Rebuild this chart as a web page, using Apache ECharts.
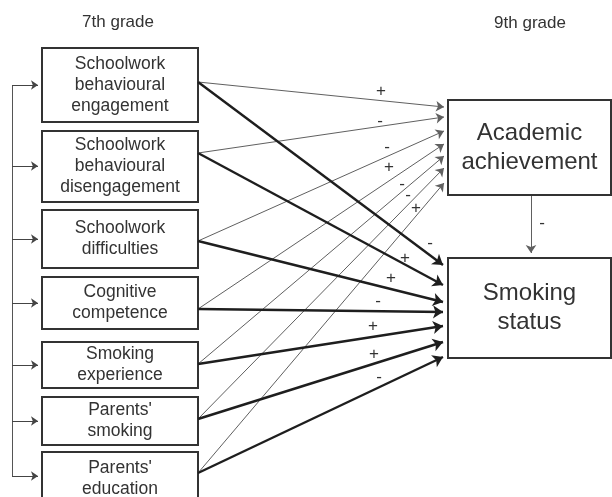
<!DOCTYPE html>
<html><head><meta charset="utf-8">
<script src="https://cdn.jsdelivr.net/npm/echarts@6/dist/echarts.min.js"></script>
<style>html,body{margin:0;padding:0;background:#fff}#c{width:612px;height:497px}</style>
</head><body><div id="c"></div>
<script>
// ---- content ----
const predictors = [
  "Schoolwork\nbehavioural\nengagement",
  "Schoolwork\nbehavioural\ndisengagement",
  "Schoolwork\ndifficulties",
  "Cognitive\ncompetence",
  "Smoking\nexperience",
  "Parents'\nsmoking",
  "Parents'\neducation"
];
const outcomes = ["Academic\nachievement", "Smoking\nstatus"];
const gradeTitles = ["7th grade", "9th grade"];
const signsToAcademic = ["+", "-", "-", "+", "-", "-", "+"];
const signsToSmoking  = ["-", "+", "+", "-", "+", "+", "-"];
const signAcademicToSmoking = "-";

// ---- layout (pixel space of the diagram) ----
const leftX = [42, 198];
const leftTop    = [48, 131, 210, 277, 342, 397, 452];
const leftBottom = [122, 202, 268, 329, 388, 445, 505];
const originY    = [82, 153, 241, 309, 364, 419, 473];
const acadEndY   = [107, 117, 131, 144, 156, 168, 183];
const smokeEndY  = [265, 285, 302, 312, 326, 342, 357];
const rightBoxes = [[448, 100, 611, 195], [448, 258, 611, 358]];
const signPosAcad  = [[381,91],[380,121],[387,147],[389,167],[402,184],[408,195],[416,208]];
const signPosSmoke = [[430,243],[405,258],[391,278],[378,301],[373,326],[374,354],[379,377]];
const signPosAS = [542, 223];
const titlePos = [[118, 22], [530, 23]];
const FONT = "'Liberation Sans', Arial, Helvetica, sans-serif";

const boxData = predictors.map((p, i) => ({name: p, value: [leftX[0], leftTop[i], leftX[1], leftBottom[i], 17.5, 21]}))
  .concat(outcomes.map((o, i) => ({name: o, value: rightBoxes[i].concat([24, 29])})));

const thinData = predictors.map((p, i) => ({coords: [[leftX[1], originY[i]], [444, acadEndY[i]]]}));
thinData.push({coords: [[531, 196], [531, 253]]});
const thickData = predictors.map((p, i) => ({coords: [[leftX[1], originY[i]], [443, smokeEndY[i]]]}));
// left feedback bracket
const bracketX = 12;
const centers = [85, 166, 239, 303, 365, 421, 476];
const bracketSpine = [{coords: [[bracketX, centers[0]], [bracketX, centers[6]]]}];
const bracketArrows = centers.map(c => ({coords: [[bracketX, c], [38, c]]}));

const textData = gradeTitles.map((t, i) => ({name: t, value: titlePos[i].concat([17])}))
  .concat(signsToAcademic.map((s, i) => ({name: s, value: signPosAcad[i].concat([17])})))
  .concat(signsToSmoking.map((s, i) => ({name: s, value: signPosSmoke[i].concat([17])})))
  .concat([{name: signAcademicToSmoking, value: signPosAS.concat([17])}]);

const chart = echarts.init(document.getElementById('c'));
chart.setOption({
  backgroundColor: '#fff',
  animation: false,
  grid: {left: 0, right: 0, top: 0, bottom: 0},
  xAxis: {type: 'value', min: 0, max: 612, show: false},
  yAxis: {type: 'value', min: 0, max: 497, inverse: true, show: false},
  series: [
    {
      type: 'custom', z: 1, clip: false,
      data: boxData,
      renderItem: function (params, api) {
        const a = api.coord([api.value(0), api.value(1)]);
        const b = api.coord([api.value(2), api.value(3)]);
        const d = boxData[params.dataIndex];
        return {type: 'group', children: [
          {type: 'rect', shape: {x: a[0], y: a[1], width: b[0] - a[0], height: b[1] - a[1]},
           style: {fill: '#fff', stroke: '#333', lineWidth: 2}},
          {type: 'text', x: (a[0] + b[0]) / 2, y: (a[1] + b[1]) / 2,
           style: {text: d.name, fill: '#333', fontFamily: FONT, fontSize: api.value(4),
                   lineHeight: api.value(5), align: 'center', verticalAlign: 'middle'}}
        ]};
      }
    },
    {
      type: 'lines', coordinateSystem: 'cartesian2d', z: 3,
      symbol: ['none', 'arrow'], symbolSize: 8,
      lineStyle: {color: '#606060', width: 1, opacity: 1},
      data: thinData
    },
    {
      type: 'lines', coordinateSystem: 'cartesian2d', z: 3,
      symbol: ['none', 'arrow'], symbolSize: 10,
      lineStyle: {color: '#1e1e1e', width: 2.4, opacity: 1},
      data: thickData
    },
    {
      type: 'lines', coordinateSystem: 'cartesian2d', z: 3,
      symbol: ['none', 'none'],
      lineStyle: {color: '#555', width: 1, opacity: 1},
      data: bracketSpine
    },
    {
      type: 'lines', coordinateSystem: 'cartesian2d', z: 3,
      symbol: ['none', 'arrow'], symbolSize: 7,
      lineStyle: {color: '#444', width: 1, opacity: 1},
      data: bracketArrows
    },
    {
      type: 'custom', z: 4, clip: false,
      data: textData,
      renderItem: function (params, api) {
        const p = api.coord([api.value(0), api.value(1)]);
        return {type: 'text', x: p[0], y: p[1],
          style: {text: textData[params.dataIndex].name, fill: '#333', fontFamily: FONT,
                  fontSize: api.value(2), align: 'center', verticalAlign: 'middle'}};
      }
    }
  ]
});
</script></body></html>
